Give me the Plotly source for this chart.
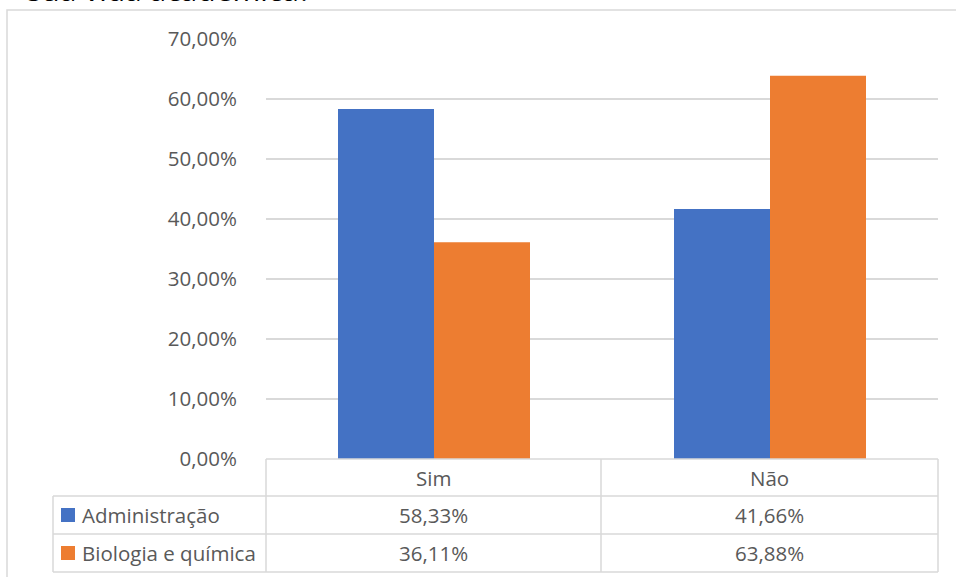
import plotly.graph_objects as go

categories = ["Sim", "Não"]
series_names = ["Administração", "Biologia e química"]
admin_values = [58.33, 41.66]
bio_values = [36.11, 63.88]
series_values = [admin_values, bio_values]
colors = ["#4472C4", "#ED7D31"]
title_text = "sua vida acadêmica?"

W, H = 956, 577
L, R, T, B = 266, 938, 39, 459


def px(x):
    return (x - L) / (R - L)


def py(y):
    return (B - y) / (B - T)


def fmt(v):
    return f"{v:.2f}%".replace(".", ",")


fig = go.Figure()
for name, vals, col in zip(series_names, series_values, colors):
    fig.add_trace(go.Bar(
        x=categories, y=[v / 100 for v in vals], name=name,
        marker=dict(color=col, line=dict(width=0)), showlegend=False,
    ))

grid = "#d9d9d9"
txt = "#595959"
font_main = "Open Sans"
fs = 20.5

shapes = []
# outer chart border
shapes.append(dict(type="rect", xref="paper", yref="paper",
                   x0=px(7), x1=px(1100), y0=py(10), y1=py(700),
                   line=dict(color=grid, width=1.5), fillcolor="rgba(0,0,0,0)", layer="below"))
# table horizontal lines
shapes.append(dict(type="line", xref="paper", yref="paper", x0=px(L), x1=px(R), y0=py(459), y1=py(459),
                   line=dict(color=grid, width=1.5)))
for yy in [496, 534, 572]:
    shapes.append(dict(type="line", xref="paper", yref="paper", x0=px(53), x1=px(R), y0=py(yy), y1=py(yy),
                       line=dict(color=grid, width=1.5)))
# table vertical lines
for xx in [L, 601, R]:
    shapes.append(dict(type="line", xref="paper", yref="paper", x0=px(xx), x1=px(xx), y0=py(459), y1=py(572),
                       line=dict(color=grid, width=1.5)))
shapes.append(dict(type="line", xref="paper", yref="paper", x0=px(53), x1=px(53), y0=py(496), y1=py(572),
                   line=dict(color=grid, width=1.5)))

annotations = []
col_centers = [(L + 601) / 2, (601 + R) / 2]
for c, cx in zip(categories, col_centers):
    annotations.append(dict(text=c, x=px(cx), y=py(477.5), xref="paper", yref="paper",
                            showarrow=False, xanchor="center", yanchor="middle",
                            font=dict(family=font_main, size=fs, color=txt)))
row_centers = [515, 553]
for name, vals, col, ry in zip(series_names, series_values, colors, row_centers):
    shapes.append(dict(type="rect", xref="paper", yref="paper", x0=px(61), x1=px(75),
                       y0=py(ry - 7), y1=py(ry + 7), fillcolor=col, line=dict(width=0)))
    annotations.append(dict(text=name, x=px(80), y=py(ry), xref="paper", yref="paper",
                            showarrow=False, xanchor="left", yanchor="middle",
                            font=dict(family=font_main, size=fs, color=txt)))
    for v, cx in zip(vals, col_centers):
        annotations.append(dict(text=fmt(v), x=px(cx), y=py(ry), xref="paper", yref="paper",
                                showarrow=False, xanchor="center", yanchor="middle",
                                font=dict(family=font_main, size=fs, color=txt)))

annotations.append(dict(text=title_text, x=px(25), y=py(12), xref="paper", yref="paper",
                        showarrow=False, xanchor="left", yanchor="bottom",
                        font=dict(family=font_main, size=30, color="#000000")))

fig.update_layout(
    width=W, height=H, autosize=False,
    margin=dict(l=L, r=W - R, t=T, b=H - B, pad=0),
    paper_bgcolor="white", plot_bgcolor="white",
    separators=",.",
    barmode="group", bargap=144 / 336, bargroupgap=0,
    shapes=shapes, annotations=annotations,
    xaxis=dict(showticklabels=False, showgrid=False, zeroline=False, showline=False, ticks=""),
    yaxis=dict(range=[0, 0.7], dtick=0.1, tick0=0, tickformat=".2%",
               showgrid=True, gridcolor=grid, gridwidth=1.5, zeroline=False, showline=False,
               ticks="outside", ticklen=24, tickcolor="rgba(0,0,0,0)",
               tickfont=dict(family=font_main, size=fs, color=txt)),
)

fig.write_html("out.html")
